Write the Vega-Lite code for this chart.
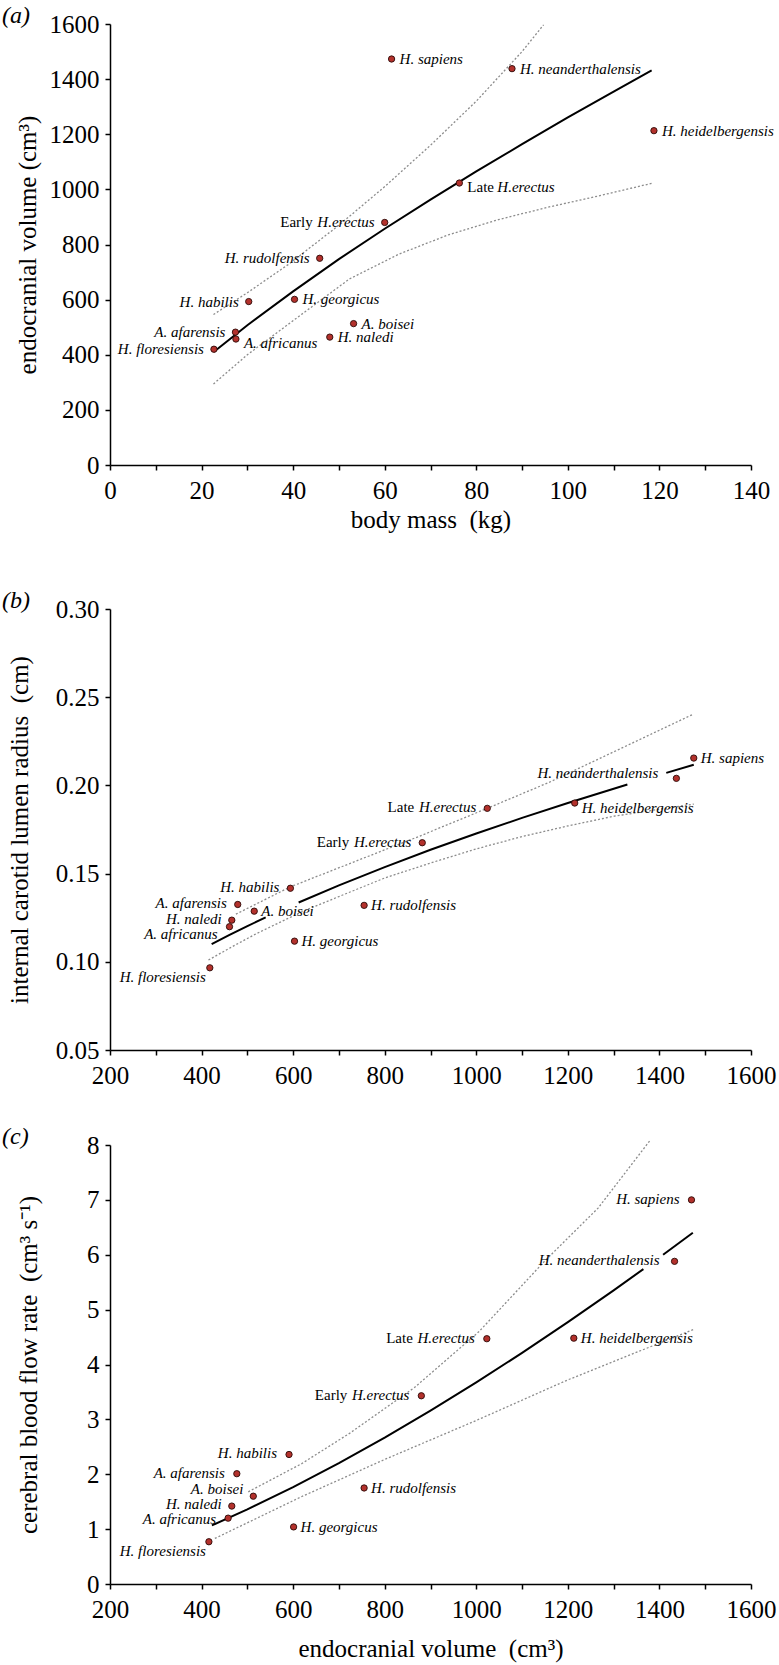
{
  "$schema": "https://vega.github.io/schema/vega-lite/v6.json",
  "background": "white",
  "padding": {"left": 2, "top": 4, "right": 2, "bottom": 2},
  "config": {
    "view": {"stroke": null},
    "font": "Liberation Serif",
    "style": {"guide-label": {"font": "Liberation Serif", "fontSize": 25, "fill": "black"}, "guide-title": {"font": "Liberation Serif", "fontSize": 25, "fontWeight": "normal", "fill": "black"}},
    "axis": {"grid": false, "domainColor": "black", "domainWidth": 1.5, "tickColor": "black", "tickWidth": 1.5, "tickSize": 5, "labelFont": "Liberation Serif", "labelFontSize": 25, "labelColor": "black", "titleFont": "Liberation Serif", "titleFontSize": 25, "titleFontWeight": "normal", "titleColor": "black", "labelFlush": false, "labelOverlap": false},
    "axisY": {"titleAngle": -90, "titleBaseline": "alphabetic", "titleAlign": "center", "labelPadding": 6},
    "axisX": {"titleBaseline": "alphabetic", "titleAlign": "center", "labelPadding": 8},
    "title": {"font": "Liberation Serif", "fontSize": 24, "fontStyle": "italic", "fontWeight": "normal", "color": "black", "anchor": "start", "frame": "group", "baseline": "alphabetic"},
    "text": {"font": "Liberation Serif", "fontSize": 15, "fontStyle": "italic", "baseline": "middle", "color": "black"}
  },
  "datasets": {
    "pa": [
      {"name": "H. sapiens", "sp": "H. sapiens", "x": 61.5, "y": 1473},
      {"name": "H. neanderthalensis", "sp": "H. neanderthalensis", "x": 87.8, "y": 1438},
      {"name": "H. heidelbergensis", "sp": "H. heidelbergensis", "x": 118.8, "y": 1213},
      {"name": "Late H.erectus", "sp": "H.erectus", "pre": "Late", "x": 76.3, "y": 1023},
      {"name": "Early H.erectus", "sp": "H.erectus", "pre": "Early", "x": 60.0, "y": 880},
      {"name": "H. rudolfensis", "sp": "H. rudolfensis", "x": 45.8, "y": 750},
      {"name": "H. habilis", "sp": "H. habilis", "x": 30.3, "y": 593},
      {"name": "H. georgicus", "sp": "H. georgicus", "x": 40.3, "y": 601},
      {"name": "A. boisei", "sp": "A. boisei", "x": 53.2, "y": 513},
      {"name": "H. naledi", "sp": "H. naledi", "x": 48.0, "y": 464},
      {"name": "A. afarensis", "sp": "A. afarensis", "x": 27.4, "y": 482},
      {"name": "A. africanus", "sp": "A. africanus", "x": 27.5, "y": 457},
      {"name": "H. floresiensis", "sp": "H. floresiensis", "x": 22.7, "y": 420}
    ],
    "pb": [
      {"name": "H. sapiens", "sp": "H. sapiens", "x": 1475, "y": 0.2155},
      {"name": "H. neanderthalensis", "sp": "H. neanderthalensis", "x": 1437, "y": 0.204},
      {"name": "H. heidelbergensis", "sp": "H. heidelbergensis", "x": 1215, "y": 0.190},
      {"name": "Late H.erectus", "sp": "H.erectus", "pre": "Late", "x": 1024, "y": 0.187},
      {"name": "Early H.erectus", "sp": "H.erectus", "pre": "Early", "x": 882, "y": 0.1675},
      {"name": "H. rudolfensis", "sp": "H. rudolfensis", "x": 755, "y": 0.132},
      {"name": "H. habilis", "sp": "H. habilis", "x": 594, "y": 0.1417},
      {"name": "H. georgicus", "sp": "H. georgicus", "x": 603, "y": 0.1117},
      {"name": "A. boisei", "sp": "A. boisei", "x": 515, "y": 0.1287},
      {"name": "H. naledi", "sp": "H. naledi", "x": 466, "y": 0.1236},
      {"name": "A. afarensis", "sp": "A. afarensis", "x": 479, "y": 0.1325},
      {"name": "A. africanus", "sp": "A. africanus", "x": 461, "y": 0.1199},
      {"name": "H. floresiensis", "sp": "H. floresiensis", "x": 418, "y": 0.0966}
    ],
    "pc": [
      {"name": "H. sapiens", "sp": "H. sapiens", "x": 1470, "y": 7.0},
      {"name": "H. neanderthalensis", "sp": "H. neanderthalensis", "x": 1433, "y": 5.88},
      {"name": "H. heidelbergensis", "sp": "H. heidelbergensis", "x": 1213, "y": 4.48},
      {"name": "Late H.erectus", "sp": "H.erectus", "pre": "Late", "x": 1023, "y": 4.47},
      {"name": "Early H.erectus", "sp": "H.erectus", "pre": "Early", "x": 880, "y": 3.43},
      {"name": "H. rudolfensis", "sp": "H. rudolfensis", "x": 755, "y": 1.75},
      {"name": "H. habilis", "sp": "H. habilis", "x": 591, "y": 2.36},
      {"name": "H. georgicus", "sp": "H. georgicus", "x": 601, "y": 1.04},
      {"name": "A. boisei", "sp": "A. boisei", "x": 513, "y": 1.60},
      {"name": "H. naledi", "sp": "H. naledi", "x": 466, "y": 1.42},
      {"name": "A. afarensis", "sp": "A. afarensis", "x": 477, "y": 2.01},
      {"name": "A. africanus", "sp": "A. africanus", "x": 458, "y": 1.20},
      {"name": "H. floresiensis", "sp": "H. floresiensis", "x": 416, "y": 0.77}
    ],
    "fa": [
      {"c": "fit", "x": 22.7, "y": 411}, {"c": "fit", "x": 30, "y": 507}, {"c": "fit", "x": 40, "y": 630}, {"c": "fit", "x": 50, "y": 747}, {"c": "fit", "x": 60, "y": 857}, {"c": "fit", "x": 70, "y": 963}, {"c": "fit", "x": 80, "y": 1065}, {"c": "fit", "x": 90, "y": 1164}, {"c": "fit", "x": 100, "y": 1261}, {"c": "fit", "x": 110, "y": 1355}, {"c": "fit", "x": 118.3, "y": 1432},
      {"c": "hi", "x": 22.6, "y": 546}, {"c": "hi", "x": 30, "y": 625}, {"c": "hi", "x": 38.9, "y": 727}, {"c": "hi", "x": 50, "y": 870}, {"c": "hi", "x": 60, "y": 1010}, {"c": "hi", "x": 70, "y": 1160}, {"c": "hi", "x": 80, "y": 1320}, {"c": "hi", "x": 90, "y": 1500}, {"c": "hi", "x": 94.7, "y": 1597},
      {"c": "lo", "x": 22.6, "y": 294}, {"c": "lo", "x": 30, "y": 400}, {"c": "lo", "x": 41.8, "y": 546}, {"c": "lo", "x": 52.3, "y": 675}, {"c": "lo", "x": 63.1, "y": 765}, {"c": "lo", "x": 73.9, "y": 835}, {"c": "lo", "x": 84.8, "y": 890}, {"c": "lo", "x": 95.6, "y": 935}, {"c": "lo", "x": 106.4, "y": 975}, {"c": "lo", "x": 118.6, "y": 1023}
    ],
    "fb": [
      {"c": "f1", "x": 422, "y": 0.1100}, {"c": "f1", "x": 460, "y": 0.1151}, {"c": "f1", "x": 500, "y": 0.1202}, {"c": "f1", "x": 540, "y": 0.1252},
      {"c": "f2", "x": 612, "y": 0.1336}, {"c": "f2", "x": 700, "y": 0.1433}, {"c": "f2", "x": 800, "y": 0.1537}, {"c": "f2", "x": 900, "y": 0.1635}, {"c": "f2", "x": 1000, "y": 0.1727}, {"c": "f2", "x": 1100, "y": 0.1816}, {"c": "f2", "x": 1200, "y": 0.1900}, {"c": "f2", "x": 1330, "y": 0.2005},
      {"c": "f3", "x": 1415, "y": 0.2071}, {"c": "f3", "x": 1475, "y": 0.2117},
      {"c": "hi", "x": 475, "y": 0.127}, {"c": "hi", "x": 594, "y": 0.1425}, {"c": "hi", "x": 876, "y": 0.1712}, {"c": "hi", "x": 1024, "y": 0.187}, {"c": "hi", "x": 1158, "y": 0.2016}, {"c": "hi", "x": 1300, "y": 0.219}, {"c": "hi", "x": 1475, "y": 0.2405},
      {"c": "lo", "x": 415, "y": 0.101}, {"c": "lo", "x": 470, "y": 0.109}, {"c": "lo", "x": 520, "y": 0.116}, {"c": "lo", "x": 620, "y": 0.1285}, {"c": "lo", "x": 700, "y": 0.137}, {"c": "lo", "x": 800, "y": 0.1475}, {"c": "lo", "x": 900, "y": 0.156}, {"c": "lo", "x": 1000, "y": 0.164}, {"c": "lo", "x": 1100, "y": 0.171}, {"c": "lo", "x": 1200, "y": 0.177}, {"c": "lo", "x": 1300, "y": 0.1825}, {"c": "lo", "x": 1400, "y": 0.1865}, {"c": "lo", "x": 1475, "y": 0.1894}
    ],
    "fc": [
      {"c": "f1", "x": 422.5, "y": 1.067}, {"c": "f1", "x": 500, "y": 1.359}, {"c": "f1", "x": 600, "y": 1.765}, {"c": "f1", "x": 700, "y": 2.202}, {"c": "f1", "x": 800, "y": 2.667}, {"c": "f1", "x": 900, "y": 3.158}, {"c": "f1", "x": 1000, "y": 3.673}, {"c": "f1", "x": 1100, "y": 4.212}, {"c": "f1", "x": 1200, "y": 4.772}, {"c": "f1", "x": 1300, "y": 5.352}, {"c": "f1", "x": 1365, "y": 5.739},
      {"c": "f2", "x": 1408, "y": 6.001}, {"c": "f2", "x": 1473, "y": 6.402},
      {"c": "hi", "x": 502, "y": 1.68}, {"c": "hi", "x": 618, "y": 2.19}, {"c": "hi", "x": 724, "y": 2.75}, {"c": "hi", "x": 865, "y": 3.58}, {"c": "hi", "x": 1006, "y": 4.6}, {"c": "hi", "x": 1150, "y": 5.89}, {"c": "hi", "x": 1266, "y": 6.85}, {"c": "hi", "x": 1381, "y": 8.1},
      {"c": "lo", "x": 429, "y": 0.83}, {"c": "lo", "x": 618, "y": 1.59}, {"c": "lo", "x": 800, "y": 2.27}, {"c": "lo", "x": 1000, "y": 2.98}, {"c": "lo", "x": 1200, "y": 3.72}, {"c": "lo", "x": 1475, "y": 4.64}
    ]
  },
  "bounds": "flush",
  "spacing": 144,
  "vconcat": [
    {
      "width": 641,
      "height": 441,
      "title": {"text": "(a)", "dx": -108, "offset": -16},
      "data": {"name": "pa"},
      "encoding": {
        "x": {"field": "x", "type": "quantitative", "scale": {"domain": [0, 140], "nice": false, "zero": false},
          "axis": {"values": [0, 10, 20, 30, 40, 50, 60, 70, 80, 90, 100, 110, 120, 130, 140], "format": "d", "labelExpr": "datum.value % 20 === 0 ? datum.label : ''", "labelFont": "Liberation Serif", "labelFontSize": 25, "titleFont": "Liberation Serif", "titleFontSize": 25, "title": "body mass \u00a0(kg)", "titleX": 320.5, "titleY": 62}},
        "y": {"field": "y", "type": "quantitative", "scale": {"domain": [0, 1600], "nice": false, "zero": false},
          "axis": {"values": [0, 200, 400, 600, 800, 1000, 1200, 1400, 1600], "format": "d", "labelFont": "Liberation Serif", "labelFontSize": 25, "titleFont": "Liberation Serif", "titleFontSize": 25, "title": "endocranial volume (cm³)", "titleX": -75, "titleY": 220.5}}
      },
      "layer": [
        {"data": {"name": "fa"}, "transform": [{"filter": "datum.c !== 'fit'"}], "mark": {"type": "line", "color": "#8c8c8c", "strokeDash": [2, 2], "strokeWidth": 1.3}, "encoding": {"detail": {"field": "c"}}},
        {"data": {"name": "fa"}, "transform": [{"filter": "datum.c === 'fit'"}], "mark": {"type": "line", "color": "black", "strokeWidth": 2}, "encoding": {"detail": {"field": "c"}}},
        {"mark": {"type": "circle", "fill": "#b3312c", "stroke": "#2b0a08", "strokeWidth": 0.9, "size": 40, "opacity": 1}},
        {"transform": [{"filter": {"field": "name", "oneOf": ["H. sapiens", "H. neanderthalensis", "H. heidelbergensis", "H. georgicus", "A. boisei", "H. naledi"]}}], "mark": {"type": "text", "align": "left", "dx": 8, "dy": 0}, "encoding": {"text": {"field": "sp"}}},
        {"transform": [{"filter": {"field": "name", "oneOf": ["A. africanus"]}}], "mark": {"type": "text", "align": "left", "dx": 8, "dy": 4}, "encoding": {"text": {"field": "sp"}}},
        {"transform": [{"filter": {"field": "name", "oneOf": ["Late H.erectus"]}}], "mark": {"type": "text", "align": "left", "dx": 38, "dy": 4}, "encoding": {"text": {"field": "sp"}}},
        {"transform": [{"filter": {"field": "name", "oneOf": ["Late H.erectus"]}}], "mark": {"type": "text", "align": "left", "dx": 8, "dy": 4, "fontStyle": "normal"}, "encoding": {"text": {"field": "pre"}}},
        {"transform": [{"filter": {"field": "name", "oneOf": ["Early H.erectus", "H. rudolfensis", "H. habilis", "A. afarensis", "H. floresiensis"]}}], "mark": {"type": "text", "align": "right", "dx": -10, "dy": 0}, "encoding": {"text": {"field": "sp"}}},
        {"transform": [{"filter": {"field": "name", "oneOf": ["Early H.erectus"]}}], "mark": {"type": "text", "align": "right", "dx": -72, "dy": 0, "fontStyle": "normal"}, "encoding": {"text": {"field": "pre"}}}
      ]
    },
    {
      "bounds": "flush",
      "spacing": 95,
      "vconcat": [
        {
          "width": 641,
          "height": 441,
          "title": {"text": "(b)", "dx": -108, "offset": -16},
          "data": {"name": "pb"},
          "encoding": {
            "x": {"field": "x", "type": "quantitative", "scale": {"domain": [200, 1600], "nice": false, "zero": false},
              "axis": {"values": [200, 300, 400, 500, 600, 700, 800, 900, 1000, 1100, 1200, 1300, 1400, 1500, 1600], "format": "d", "labelExpr": "datum.value % 200 === 0 ? datum.label : ''", "labelFont": "Liberation Serif", "labelFontSize": 25, "title": null}},
            "y": {"field": "y", "type": "quantitative", "scale": {"domain": [0.05, 0.3], "nice": false, "zero": false},
              "axis": {"values": [0.05, 0.1, 0.15, 0.2, 0.25, 0.3], "format": ".2f", "labelFont": "Liberation Serif", "labelFontSize": 25, "titleFont": "Liberation Serif", "titleFontSize": 25, "title": "internal carotid lumen radius \u00a0(cm)", "titleX": -83, "titleY": 220.5}}
          },
          "layer": [
            {"data": {"name": "fb"}, "transform": [{"filter": "datum.c === 'hi' || datum.c === 'lo'"}], "mark": {"type": "line", "color": "#8c8c8c", "strokeDash": [2, 2], "strokeWidth": 1.3}, "encoding": {"detail": {"field": "c"}}},
            {"data": {"name": "fb"}, "transform": [{"filter": "datum.c !== 'hi' && datum.c !== 'lo'"}], "mark": {"type": "line", "color": "black", "strokeWidth": 2}, "encoding": {"detail": {"field": "c"}}},
            {"mark": {"type": "circle", "fill": "#b3312c", "stroke": "#2b0a08", "strokeWidth": 0.9, "size": 40, "opacity": 1}},
            {"transform": [{"filter": {"field": "name", "oneOf": ["H. sapiens", "A. boisei", "H. rudolfensis", "H. georgicus"]}}], "mark": {"type": "text", "align": "left", "dx": 7, "dy": 0}, "encoding": {"text": {"field": "sp"}}},
            {"transform": [{"filter": {"field": "name", "oneOf": ["H. heidelbergensis"]}}], "mark": {"type": "text", "align": "left", "dx": 7, "dy": 5}, "encoding": {"text": {"field": "sp"}}},
            {"transform": [{"filter": {"field": "name", "oneOf": ["Late H.erectus", "Early H.erectus", "H. habilis", "A. afarensis"]}}], "mark": {"type": "text", "align": "right", "dx": -11, "dy": -1}, "encoding": {"text": {"field": "sp"}}},
            {"transform": [{"filter": {"field": "name", "oneOf": ["H. naledi"]}}], "mark": {"type": "text", "align": "right", "dx": -10, "dy": -1.5}, "encoding": {"text": {"field": "sp"}}},
            {"transform": [{"filter": {"field": "name", "oneOf": ["Late H.erectus", "Early H.erectus"]}}], "mark": {"type": "text", "align": "right", "dx": -73, "dy": -1, "fontStyle": "normal"}, "encoding": {"text": {"field": "pre"}}},
            {"transform": [{"filter": {"field": "name", "oneOf": ["H. neanderthalensis"]}}], "mark": {"type": "text", "align": "right", "dx": -18, "dy": -5}, "encoding": {"text": {"field": "sp"}}},
            {"transform": [{"filter": {"field": "name", "oneOf": ["A. africanus"]}}], "mark": {"type": "text", "align": "right", "dx": -12, "dy": 7}, "encoding": {"text": {"field": "sp"}}},
            {"transform": [{"filter": {"field": "name", "oneOf": ["H. floresiensis"]}}], "mark": {"type": "text", "align": "right", "dx": -4, "dy": 9}, "encoding": {"text": {"field": "sp"}}}
          ]
        },
        {
          "width": 641,
          "height": 439,
          "title": {"text": "(c)", "dx": -108, "offset": -16},
          "data": {"name": "pc"},
          "encoding": {
            "x": {"field": "x", "type": "quantitative", "scale": {"domain": [200, 1600], "nice": false, "zero": false},
              "axis": {"values": [200, 300, 400, 500, 600, 700, 800, 900, 1000, 1100, 1200, 1300, 1400, 1500, 1600], "format": "d", "labelExpr": "datum.value % 200 === 0 ? datum.label : ''", "labelFont": "Liberation Serif", "labelFontSize": 25, "titleFont": "Liberation Serif", "titleFontSize": 25, "title": "endocranial volume \u00a0(cm³)", "titleX": 320.5, "titleY": 72}},
            "y": {"field": "y", "type": "quantitative", "scale": {"domain": [0, 8], "nice": false, "zero": false},
              "axis": {"values": [0, 1, 2, 3, 4, 5, 6, 7, 8], "format": "d", "labelFont": "Liberation Serif", "labelFontSize": 25, "titleFont": "Liberation Serif", "titleFontSize": 25, "title": "cerebral blood flow rate \u00a0(cm³ s⁻¹)", "titleX": -74, "titleY": 219.5}}
          },
          "layer": [
            {"data": {"name": "fc"}, "transform": [{"filter": "datum.c === 'hi' || datum.c === 'lo'"}], "mark": {"type": "line", "color": "#8c8c8c", "strokeDash": [2, 2], "strokeWidth": 1.3}, "encoding": {"detail": {"field": "c"}}},
            {"data": {"name": "fc"}, "transform": [{"filter": "datum.c !== 'hi' && datum.c !== 'lo'"}], "mark": {"type": "line", "color": "black", "strokeWidth": 2}, "encoding": {"detail": {"field": "c"}}},
            {"mark": {"type": "circle", "fill": "#b3312c", "stroke": "#2b0a08", "strokeWidth": 0.9, "size": 40, "opacity": 1}},
            {"transform": [{"filter": {"field": "name", "oneOf": ["H. heidelbergensis", "H. rudolfensis", "H. georgicus"]}}], "mark": {"type": "text", "align": "left", "dx": 7, "dy": 0}, "encoding": {"text": {"field": "sp"}}},
            {"transform": [{"filter": {"field": "name", "oneOf": ["H. sapiens", "Late H.erectus", "Early H.erectus", "H. habilis", "A. afarensis"]}}], "mark": {"type": "text", "align": "right", "dx": -12, "dy": -1}, "encoding": {"text": {"field": "sp"}}},
            {"transform": [{"filter": {"field": "name", "oneOf": ["H. naledi"]}}], "mark": {"type": "text", "align": "right", "dx": -10, "dy": -2}, "encoding": {"text": {"field": "sp"}}},
            {"transform": [{"filter": {"field": "name", "oneOf": ["A. africanus"]}}], "mark": {"type": "text", "align": "right", "dx": -12, "dy": 1}, "encoding": {"text": {"field": "sp"}}},
            {"transform": [{"filter": {"field": "name", "oneOf": ["Late H.erectus", "Early H.erectus"]}}], "mark": {"type": "text", "align": "right", "dx": -74, "dy": -1, "fontStyle": "normal"}, "encoding": {"text": {"field": "pre"}}},
            {"transform": [{"filter": {"field": "name", "oneOf": ["H. neanderthalensis"]}}], "mark": {"type": "text", "align": "right", "dx": -15, "dy": -1}, "encoding": {"text": {"field": "sp"}}},
            {"transform": [{"filter": {"field": "name", "oneOf": ["A. boisei"]}}], "mark": {"type": "text", "align": "right", "dx": -10, "dy": -7}, "encoding": {"text": {"field": "sp"}}},
            {"transform": [{"filter": {"field": "name", "oneOf": ["H. floresiensis"]}}], "mark": {"type": "text", "align": "right", "dx": -3, "dy": 9}, "encoding": {"text": {"field": "sp"}}}
          ]
        }
      ]
    }
  ]
}
